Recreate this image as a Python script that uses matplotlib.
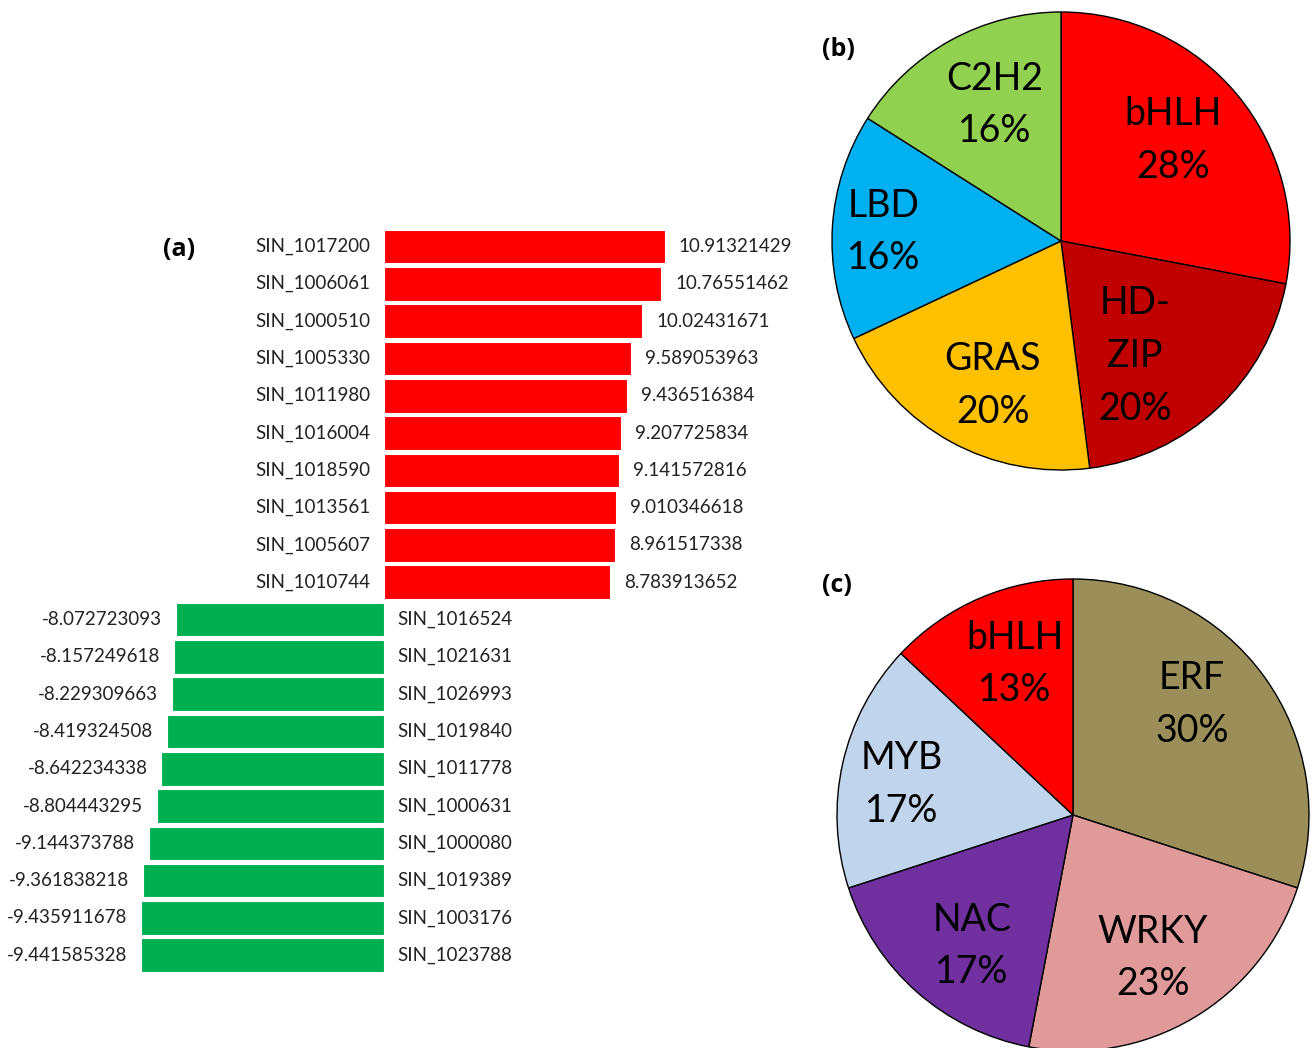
import numpy as np
import matplotlib.pyplot as plt

plt.rcParams['font.family'] = ['Lato', 'DejaVu Sans']

# (a) most up- and down-regulated genes (log2 fold change)
up_genes = ['SIN_1017200', 'SIN_1006061', 'SIN_1000510', 'SIN_1005330', 'SIN_1011980',
            'SIN_1016004', 'SIN_1018590', 'SIN_1013561', 'SIN_1005607', 'SIN_1010744']
up_values = [10.91321429, 10.76551462, 10.02431671, 9.589053963, 9.436516384,
             9.207725834, 9.141572816, 9.010346618, 8.961517338, 8.783913652]
down_genes = ['SIN_1016524', 'SIN_1021631', 'SIN_1026993', 'SIN_1019840', 'SIN_1011778',
              'SIN_1000631', 'SIN_1000080', 'SIN_1019389', 'SIN_1003176', 'SIN_1023788']
down_values = [-8.072723093, -8.157249618, -8.229309663, -8.419324508, -8.642234338,
               -8.804443295, -9.144373788, -9.361838218, -9.435911678, -9.441585328]

# (b) TF families among up-regulated genes
tf_up = ['bHLH', 'HD-\nZIP', 'GRAS', 'LBD', 'C2H2']
tf_up_pct = [28, 20, 20, 16, 16]
tf_up_colors = ['#FF0000', '#C00000', '#FFC000', '#00B0F0', '#92D050']

# (c) TF families among down-regulated genes
tf_down = ['ERF', 'WRKY', 'NAC', 'MYB', 'bHLH']
tf_down_pct = [30, 23, 17, 17, 13]
tf_down_colors = ['#9B8E58', '#E09A99', '#7030A0', '#C0D4EC', '#FF0000']

W, H = 1312, 1048
fig = plt.figure(figsize=(W / 100, H / 100), dpi=100)


def px_axes(x0, y0, x1, y1):
    """Axes placed by pixel box (top-left origin)."""
    return fig.add_axes([x0 / W, 1 - y1 / H, (x1 - x0) / W, (y1 - y0) / H])


# ---- (a) diverging bar chart ----
ax = px_axes(0, 200, 800, 1000)
names = up_genes + down_genes
values = up_values + down_values
rows = np.arange(len(values))
colors = ['#FF0000'] * len(up_values) + ['#00B050'] * len(down_values)
ax.barh(rows, values, height=0.9, color=colors, edgecolor='white', linewidth=0.8)
ax.set_xlim(-384 / 25.75, 416 / 25.75)
ax.set_ylim(20.2, -1.247)
ax.axis('off')

fs = 13.5
for y, name, v in zip(rows, names, values):
    val_txt = f'{v:.10g}'
    if v > 0:
        ax.annotate(name, (0, y), xytext=(-10, 0), textcoords='offset points',
                    ha='right', va='center', fontsize=fs, color='#222222')
        ax.annotate(val_txt, (v, y), xytext=(10, 0), textcoords='offset points',
                    ha='left', va='center', fontsize=fs, color='#222222')
    else:
        ax.annotate(name, (0, y), xytext=(9.5, 0), textcoords='offset points',
                    ha='left', va='center', fontsize=fs, color='#222222')
        ax.annotate(val_txt, (v, y), xytext=(-10, 0), textcoords='offset points',
                    ha='right', va='center', fontsize=fs, color='#222222')


def draw_pie(cx, cy, r, labels, pct, cols, label_pos):
    lim = 1.05
    a = px_axes(cx - r * lim, cy - r * lim, cx + r * lim, cy + r * lim)
    wedges, _ = a.pie(pct, colors=cols, startangle=90, counterclock=False,
                      wedgeprops=dict(edgecolor='black', linewidth=1.0))
    for w in wedges:
        w.set_clip_on(False)
    a.set_xlim(-lim, lim)
    a.set_ylim(-lim, lim)
    a.set_aspect('equal')
    for w, lab, p, (rf, dth) in zip(wedges, labels, pct, label_pos):
        mid = np.deg2rad((w.theta1 + w.theta2) / 2 + dth)
        a.text(rf * np.cos(mid), rf * np.sin(mid), f'{lab}\n{p}%',
               ha='center', va='center', fontsize=27, linespacing=1.58)
    return a


draw_pie(1061, 241, 229, tf_up, tf_up_pct, tf_up_colors,
         [(0.656, 2.4), (0.597, -10.4), (0.696, 3.5), (0.774, 0.7), (0.66, -2.9)])
draw_pie(1073, 815, 236, tf_down, tf_down_pct, tf_down_colors,
         [(0.687, 6.8), (0.694, -1.4), (0.701, 3.8), (0.737, 2.4), (0.685, -2.4)])

# panel letters
for lab, x, y in [('(a)', 179, 250), ('(b)', 838, 50), ('(c)', 837, 585)]:
    fig.text(x / W, 1 - y / H, lab, ha='center', va='center',
             fontsize=18, fontweight='bold', family=['Open Sans', 'DejaVu Sans'])

fig.savefig('out.png', dpi=100)
